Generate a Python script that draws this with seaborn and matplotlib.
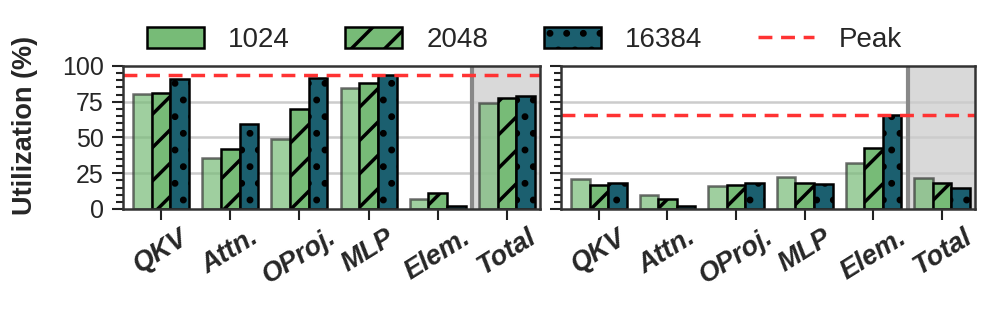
import numpy as np
import pandas as pd
import seaborn as sns
import matplotlib.pyplot as plt
from matplotlib.patches import Patch
from matplotlib.lines import Line2D
from matplotlib.ticker import MultipleLocator

sns.set_style("white")
plt.rcParams['font.family'] = ['Liberation Sans', 'DejaVu Sans']
plt.rcParams['hatch.linewidth'] = 2.5

categories = ["QKV", "Attn.", "OProj.", "MLP", "Elem.", "Total"]
sizes = ["1024", "2048", "16384"]

# left panel
left_1024 = [80.4, 35.5, 49.2, 84.6, 7.1, 73.8]
left_2048 = [81.0, 41.6, 70.0, 88.2, 10.9, 77.5]
left_16384 = [90.8, 59.6, 91.7, 93.4, 1.9, 78.7]
left_peak = 93.4

# right panel
right_1024 = [21.3, 9.9, 16.1, 22.7, 32.2, 21.7]
right_2048 = [16.5, 7.1, 16.5, 18.0, 42.6, 18.0]
right_16384 = [18.4, 1.9, 18.4, 17.5, 65.7, 14.7]
right_peak = 65.5

green = "#77bb77"
teal = "#1b5f6f"
palette = [green, green, teal]
hatches = ["", "/", "."]


def long_df(v1, v2, v3):
    rows = []
    for s, vals in zip(sizes, [v1, v2, v3]):
        for c, v in zip(categories, vals):
            rows.append({"op": c, "size": s, "util": v})
    return pd.DataFrame(rows)


fig = plt.figure(figsize=(9.97, 3.13), dpi=100)
ax1 = fig.add_axes([0.1234, 0.3323, 0.4183, 0.4569])
ax2 = fig.add_axes([0.5627, 0.3323, 0.4152, 0.4569])

for ax, data, peak in [(ax1, (left_1024, left_2048, left_16384), left_peak),
                       (ax2, (right_1024, right_2048, right_16384), right_peak)]:
    df = long_df(*data)
    ax.axvspan(4.5, 5.6, color="#d9d9d9", zorder=0)
    for y in [25, 50, 75]:
        ax.axhline(y, color="#cccccc", lw=1.8, zorder=0.5)
    sns.barplot(data=df, x="op", y="util", hue="size", hue_order=sizes,
                palette=palette, saturation=1, width=0.81, legend=False,
                ax=ax, zorder=2)
    for i, cont in enumerate(ax.containers):
        for bar in cont:
            bar.set_hatch(hatches[i])
            if i == 0:
                bar.set_alpha(0.7)
                bar.set_edgecolor("#333333")
                bar.set_linewidth(1.8)
            else:
                bar.set_edgecolor("black")
                bar.set_linewidth(1.8)
    ax.axvline(4.5, color="#888888", lw=3, zorder=1)
    ax.axhline(peak, color="#ff3333", lw=2.5, ls=(0, (4, 2.5)), zorder=3)
    ax.set_xlim(-0.55, 5.48)
    ax.set_ylim(0, 100)
    ax.yaxis.set_major_locator(MultipleLocator(25))
    ax.yaxis.set_minor_locator(MultipleLocator(5))
    ax.tick_params(axis="y", which="major", left=True, length=8, width=1.5,
                   color="#222222", labelsize=18, pad=6)
    ax.tick_params(axis="y", which="minor", left=True, length=5, width=1.5,
                   color="#222222")
    ax.tick_params(axis="x", bottom=True, length=8, width=1.5, color="#222222",
                   pad=3)
    ax.set_xlabel("")
    ax.set_xticks(range(len(categories)))
    ax.set_xticklabels(categories, rotation=32, fontsize=19.5,
                       fontweight="bold", fontstyle="italic", ha="center")
    for sp in ax.spines.values():
        sp.set_linewidth(1.8)
        sp.set_color("#333333")
        sp.set_zorder(5)

ax1.set_ylabel("Utilization (%)", fontsize=19.5, fontweight="bold")
ax1.yaxis.set_label_coords(-0.205, 0.587)
ax2.set_ylabel("")
ax2.set_yticklabels([])

handles = [
    Patch(facecolor=green, edgecolor="black", lw=1.8, label="1024"),
    Patch(facecolor=green, edgecolor="black", lw=1.8, hatch="/", label="2048"),
    Patch(facecolor=teal, edgecolor="black", lw=1.8, hatch=".", label="16384"),
    Line2D([0], [0], color="#ff3333", lw=2.5, ls=(0, (4, 2.5)), label="Peak"),
]
fig.legend(handles=handles, loc="center", bbox_to_anchor=(0.526, 0.872),
           ncol=4, frameon=False, fontsize=20, handlelength=2.05,
           handleheight=0.8, columnspacing=2.0, handletextpad=0.86)

fig.savefig("out.png", dpi=100)
